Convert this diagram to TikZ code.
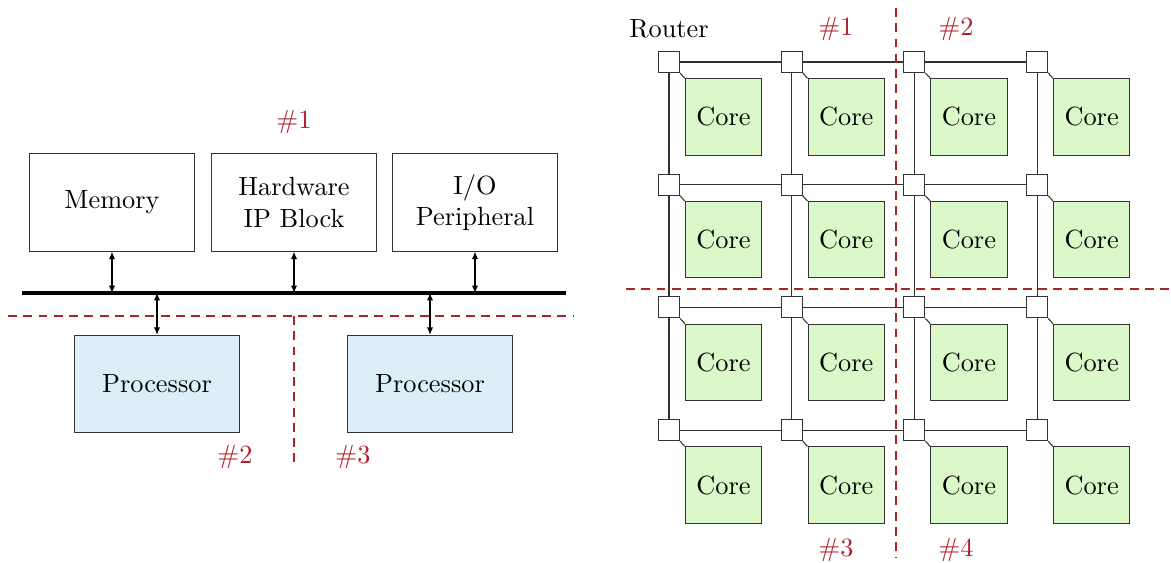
\documentclass[tikz,border=0pt]{standalone}
\usepackage{tikz}
\usetikzlibrary{arrows.meta}
\definecolor{partred}{RGB}{176, 32, 40}
\definecolor{procblue}{RGB}{220, 239, 248}
\definecolor{coregreen}{RGB}{218, 248, 200}

\tikzset{
  unitbox/.style = {
    draw           = black!80,
    minimum width  = 63pt,
    minimum height = 37pt,
    inner sep      = 0pt,
    align          = center
  },
  procbox/.style = {unitbox, fill = procblue},
  routerbox/.style = {
    draw           = black!80,
    fill           = white,
    minimum size   = 8pt,
    inner sep      = 0pt
  },
  corebox/.style = {
    draw           = black!80,
    fill           = coregreen,
    minimum size   = 29pt,
    inner sep      = 0pt
  },
  partline/.style = {
    draw           = partred,
    line width     = 0.8pt,
    dash pattern   = on 3.4pt off 2.4pt
  },
  partlabel/.style = {text = partred},
  link/.style = {{Latex[length=2.8pt,width=2.4pt]}-{Latex[length=2.8pt,width=2.4pt]}}
}

\begin{document}
\begin{tikzpicture}[x=0.38pt, y=-0.38pt]
  \useasboundingbox (0,0) rectangle (1171,563);

  % bus based system
  \node[unitbox] (mem) at (112,202.5) {Memory};
  \node[unitbox] (hwip) at (294,202.5) {Hardware\\IP Block};
  \node[unitbox] (io) at (475,202.5) {I/O\\Peripheral};
  \node[procbox] (cpuA) at (157,384) {Processor};
  \node[procbox] (cpuB) at (430,384) {Processor};

  \coordinate (busL) at (22,293);
  \coordinate (busR) at (566,293);
  \draw[line width=1.2pt] (busL) -- (busR);

  \foreach \n in {mem,hwip,io}
    \draw[link] (\n.south) -- (\n.south |- busL);
  \foreach \n in {cpuA,cpuB}
    \draw[link] (\n.north |- busL) -- (\n.north);

  \coordinate (cutL) at (8,316);
  \coordinate (cutR) at (573,316);
  \coordinate (cutB) at (294,465);
  \draw[partline] (cutL) -- (cutR);
  \draw[partline] (cutB |- cutL) -- (cutB);

  \node[partlabel] (pA) at (294,122) {\#1};
  \node[partlabel] (pB) at (235,457) {\#2};
  \node[partlabel] (pC) at (353,457) {\#3};

  % network on chip
  \foreach \c in {0,...,3}
    \foreach \r in {0,...,3} {
      \node[routerbox] (r-\c-\r) at (669+122.7*\c, 62+122.7*\r) {};
      \node[corebox] (core-\c-\r) at (723.5+122.7*\c, 117+122.7*\r) {Core};
      \draw[black!80] (r-\c-\r.south east) -- (core-\c-\r.north west);
    }
  \foreach \r in {0,...,3}
    \foreach \c [count=\d] in {0,...,2} {
      \draw[black!80] (r-\c-\r) -- (r-\d-\r);
      \draw[black!80] (r-\r-\c) -- (r-\r-\d);
    }

  \node (router) at (669,29) {Router};

  \coordinate (gridT) at (896,8);
  \coordinate (gridB) at (896,558);
  \coordinate (gridL) at (626,289);
  \coordinate (gridR) at (1171,289);
  \draw[partline] (gridT) -- (gridB);
  \draw[partline] (gridL) -- (gridR);

  \node[partlabel] (q1) at (836,29) {\#1};
  \node[partlabel] (q2) at (956,29) {\#2};
  \node[partlabel] (q3) at (836,550) {\#3};
  \node[partlabel] (q4) at (956,550) {\#4};
\end{tikzpicture}
\end{document}
